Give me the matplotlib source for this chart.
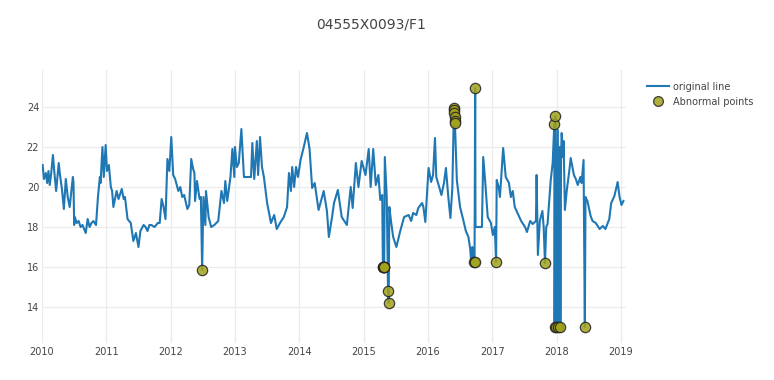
#!/usr/bin/env python3

import matplotlib

matplotlib.use("Agg")
import matplotlib.pyplot as plt
from matplotlib.lines import Line2D

# ------------------------------------------------------------------------------------------------
# series (decimal years / value)

title = "04555X0093/F1"

line_t = [
    2010.01, 2010.03, 2010.06, 2010.08, 2010.10, 2010.12, 2010.14, 2010.17, 2010.19, 2010.22,
    2010.26, 2010.28, 2010.31, 2010.34, 2010.37, 2010.40, 2010.43, 2010.48, 2010.49, 2010.50,
    2010.51, 2010.54, 2010.57, 2010.60, 2010.63, 2010.68, 2010.71, 2010.74, 2010.77, 2010.80,
    2010.84, 2010.87, 2010.90, 2010.91, 2010.94, 2010.96, 2010.99, 2011.01, 2011.04, 2011.07,
    2011.09, 2011.11, 2011.16, 2011.19, 2011.24, 2011.27, 2011.29, 2011.33, 2011.38, 2011.42,
    2011.46, 2011.50, 2011.53, 2011.58, 2011.61, 2011.64, 2011.67, 2011.70, 2011.75, 2011.80,
    2011.83, 2011.86, 2011.89, 2011.92, 2011.95, 2011.98, 2012.01, 2012.04, 2012.07, 2012.12,
    2012.15, 2012.18, 2012.21, 2012.26, 2012.29, 2012.32, 2012.35, 2012.37, 2012.38, 2012.41,
    2012.45, 2012.47, 2012.49, 2012.51, 2012.54, 2012.55, 2012.59, 2012.63, 2012.68, 2012.74,
    2012.79, 2012.83, 2012.85, 2012.88, 2012.93, 2012.96, 2012.99, 2013.00, 2013.03, 2013.06,
    2013.10, 2013.14, 2013.20, 2013.25, 2013.27, 2013.30, 2013.34, 2013.36, 2013.39, 2013.42,
    2013.45, 2013.50, 2013.56, 2013.61, 2013.65, 2013.70, 2013.76, 2013.81, 2013.84, 2013.87,
    2013.89, 2013.92, 2013.95, 2013.98, 2014.02, 2014.07, 2014.12, 2014.16, 2014.20, 2014.24,
    2014.30, 2014.38, 2014.43, 2014.46, 2014.51, 2014.54, 2014.60, 2014.66, 2014.74, 2014.80,
    2014.83, 2014.88, 2014.92, 2014.97, 2015.03, 2015.08, 2015.11, 2015.15, 2015.19, 2015.23,
    2015.26, 2015.29, 2015.30, 2015.32, 2015.33, 2015.36, 2015.38, 2015.39, 2015.40, 2015.43,
    2015.46, 2015.51, 2015.57, 2015.63, 2015.70, 2015.74, 2015.77, 2015.82, 2015.85, 2015.91,
    2015.93, 2015.96, 2016.01, 2016.05, 2016.08, 2016.11, 2016.13, 2016.18, 2016.21, 2016.25,
    2016.28, 2016.32, 2016.35, 2016.38, 2016.40, 2016.405, 2016.41, 2016.415, 2016.42, 2016.45,
    2016.50, 2016.55, 2016.59, 2016.63, 2016.66, 2016.67, 2016.69, 2016.70, 2016.725, 2016.735,
    2016.74, 2016.84, 2016.86, 2016.89, 2016.93, 2016.98, 2017.01, 2017.04, 2017.06, 2017.07,
    2017.10, 2017.12, 2017.17, 2017.21, 2017.26, 2017.29, 2017.32, 2017.35, 2017.40, 2017.45,
    2017.51, 2017.54, 2017.59, 2017.63, 2017.68, 2017.69, 2017.71, 2017.74, 2017.78, 2017.80,
    2017.82, 2017.84, 2017.86, 2017.91, 2017.94, 2017.965, 2017.97, 2017.98, 2017.995, 2018.02,
    2018.03, 2018.05, 2018.06, 2018.07, 2018.08, 2018.10, 2018.11, 2018.13, 2018.16, 2018.20,
    2018.22, 2018.27, 2018.30, 2018.33, 2018.37, 2018.39, 2018.42, 2018.44, 2018.45, 2018.48,
    2018.53, 2018.56, 2018.61, 2018.67, 2018.72, 2018.76, 2018.82, 2018.85, 2018.90, 2018.95,
    2018.98, 2019.01, 2019.04,
]
line_v = [
    21.1, 20.4, 20.7, 20.2, 20.8, 20.1, 20.6, 21.6, 20.8, 19.8,
    21.2, 20.6, 19.9, 18.9, 20.4, 19.5, 19.0, 20.5, 20.2, 18.1,
    18.5, 18.2, 18.3, 18.0, 18.1, 17.7, 18.4, 18.0, 18.2, 18.3,
    18.1, 19.5, 20.5, 20.2, 22.0, 20.5, 22.1, 20.8, 21.1, 20.0,
    19.8, 19.0, 19.8, 19.4, 19.9, 19.4, 19.5, 18.4, 18.2, 17.3,
    17.7, 17.0, 17.8, 18.1, 18.0, 17.8, 18.1, 18.1, 18.0, 18.2,
    18.2, 19.4, 19.0, 18.4, 21.4, 20.8, 22.5, 20.6, 20.4, 19.8,
    20.0, 19.5, 19.6, 18.9, 19.1, 21.4, 20.9, 20.7, 19.3, 20.3,
    19.4, 19.5, 15.85, 19.5, 18.1, 19.8, 18.5, 18.0, 18.1, 18.3,
    19.8, 19.2, 20.3, 19.3, 20.5, 21.9, 20.5, 22.0, 21.0, 21.2,
    22.9, 20.5, 20.5, 20.5, 22.2, 20.4, 22.3, 20.6, 22.5, 21.0,
    20.5, 19.2, 18.2, 18.6, 17.9, 18.2, 18.5, 19.0, 20.7, 19.8,
    21.0, 20.0, 21.0, 20.5, 21.35, 22.0, 22.7, 21.9, 19.95, 20.2,
    18.85, 19.8, 18.8, 17.5, 18.5, 19.2, 19.85, 18.5, 18.1, 20.0,
    18.95, 21.2, 20.0, 21.3, 20.6, 21.9, 20.0, 21.9, 20.1, 20.6,
    19.35, 19.6, 16.0, 16.0, 21.5, 19.5, 14.8, 14.2, 19.0, 18.2,
    17.5, 17.0, 17.8, 18.5, 18.6, 18.3, 18.7, 18.6, 18.95, 19.2,
    19.0, 18.25, 20.95, 20.25, 20.6, 22.45, 20.5, 19.95, 19.6, 20.2,
    20.95, 19.4, 18.45, 19.95, 23.3, 23.95, 23.85, 23.5, 23.2, 20.35,
    19.0, 18.35, 17.8, 17.5, 16.85, 16.35, 17.0, 16.4, 16.25, 24.95,
    18.0, 18.0, 21.5, 20.3, 18.5, 18.2, 17.6, 18.0, 16.25, 20.35,
    20.0, 19.5, 21.95, 20.5, 20.2, 19.5, 19.8, 19.0, 18.65, 18.3,
    18.0, 17.75, 18.3, 18.15, 18.3, 20.6, 16.6, 18.3, 18.8, 18.0,
    16.2, 18.0, 18.15, 20.35, 21.2, 23.15, 13.0, 23.55, 13.0, 22.85,
    13.0, 22.0, 13.0, 21.5, 22.7, 21.5, 22.3, 18.85, 19.85, 20.85,
    21.45, 20.6, 20.4, 20.1, 20.5, 20.2, 21.35, 13.0, 19.5, 19.3,
    18.55, 18.3, 18.2, 17.9, 18.05, 17.9, 18.4, 19.2, 19.55, 20.25,
    19.5, 19.1, 19.3,
]

abn_t = [
    2012.49, 2015.30, 2015.305, 2015.31, 2015.315, 2015.32, 2015.38, 2015.39,
    2016.405, 2016.41, 2016.41, 2016.415, 2016.415, 2016.42, 2016.735,
    2016.72, 2016.73, 2017.06, 2017.82, 2017.965, 2017.98,
    2017.97, 2017.995, 2018.03, 2018.06, 2018.44,
]
abn_v = [
    15.85, 16.0, 16.0, 16.0, 16.0, 16.0, 14.8, 14.2,
    23.95, 23.85, 23.7, 23.5, 23.3, 23.2, 24.95,
    16.25, 16.25, 16.25, 16.2, 23.15, 23.55,
    13.0, 13.0, 13.0, 13.0, 13.0,
]

years = list(range(2010, 2020))
y_ticks = [14, 16, 18, 20, 22, 24]

# ------------------------------------------------------------------------------------------------

W, H = 774, 380
fig = plt.figure(figsize=(W / 100, H / 100), dpi=100)
ax = fig.add_axes([42 / W, 1 - 343 / H, (626 - 42) / W, (343 - 70) / H])

ax.plot(line_t, line_v, color="#1f77b4", lw=1.5, zorder=2)
ax.scatter(abn_t, abn_v, s=55, color="#a3a31c", alpha=0.85, edgecolors="#222222", linewidths=0.9, zorder=3)

ax.set_xlim(2010.0, 2019.08)
ax.set_ylim(12.2, 25.85)
ax.set_xticks(years)
ax.set_xticklabels([str(y) for y in years])
ax.set_yticks(y_ticks)
ax.grid(True, color="#ebebeb", lw=0.9)
ax.set_axisbelow(True)
for s in ax.spines.values():
    s.set_visible(False)
ax.tick_params(length=0, labelsize=7, colors="#444444", pad=3)
ax.tick_params(axis="y", pad=2)

fig.text(371 / W, 1 - 25 / H, title, ha="center", va="center", fontsize=10, color="#444444")

handles = [
    Line2D([], [], color="#1f77b4", lw=1.5),
    Line2D([], [], ls="none", marker="o", ms=7, mfc="#a3a31c", mec="#222222", mew=0.9, alpha=0.85),
]
fig.legend(handles, ["original line", "Abnormal points"], loc="upper left",
           bbox_to_anchor=(638 / W, 1 - 73 / H), frameon=False, fontsize=7,
           handlelength=2.3, handletextpad=0.4, labelspacing=0.5, labelcolor="#444444")

plt.savefig("out.png", dpi=100)
